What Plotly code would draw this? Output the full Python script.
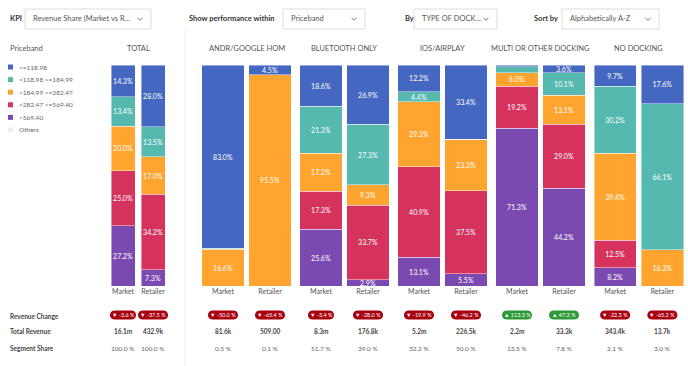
import math
import plotly.graph_objects as go

W, H = 688, 366

groups = ["TOTAL", "ANDR/GOOGLE HOM", "BLUETOOTH ONLY", "IOS/AIRPLAY", "MULTI OR OTHER DOCKING", "NO DOCKING"]
bars = ["Market", "Retailer"]
bands = ["<=118.98", ">118.98 <=184.99", ">184.99 <=282.47", ">282.47 <=569.40", ">569.40"]
band_colors = ["#4467c1", "#55b9b0", "#ffa52f", "#d5325e", "#7b4ab0"]

# share per band (top->bottom order), per group: [Market, Retailer]
share = {
    "<=118.98":          [[14.3, 28.0], [83.0, 4.5], [18.6, 26.9], [12.2, 33.4], [0.9, 3.6], [9.7, 17.6]],
    ">118.98 <=184.99":  [[13.4, 13.5], [0.4, 0.0], [21.3, 27.3], [4.4, 0.0], [2.6, 10.1], [30.2, 66.1]],
    ">184.99 <=282.47":  [[20.0, 17.0], [16.6, 95.5], [17.2, 9.3], [29.3, 23.3], [6.0, 13.1], [39.4, 16.3]],
    ">282.47 <=569.40":  [[25.0, 34.2], [0.0, 0.0], [17.3, 33.7], [40.9, 37.5], [19.2, 29.0], [12.5, 0.0]],
    ">569.40":           [[27.2, 7.3], [0.0, 0.0], [25.6, 2.9], [13.1, 5.5], [71.3, 44.2], [8.2, 0.0]],
}

revenue_change = [[-3.6, -37.5], [-50.0, -65.4], [-3.4, -28.0], [-19.9, -46.2], [113.3, 47.3], [-22.3, -65.2]]
total_revenue = [["16.1m", "432.9k"], ["81.6k", "509.00"], ["8.3m", "176.8k"], ["5.2m", "226.5k"], ["2.2m", "33.3k"], ["343.4k", "13.7k"]]
segment_share = [["100.0 %", "100.0 %"], ["0.5 %", "0.1 %"], ["51.7 %", "39.0 %"], ["32.2 %", "50.0 %"], ["13.5 %", "7.8 %"], ["2.1 %", "3.0 %"]]

FONT = "Lato"
# layout (pixels)
group_domains_px = [(108, 168), (199.5, 293.5), (297.5, 391.5), (395.5, 489.5), (493.5, 587.5), (591.5, 686)]
bar_width = [0.8, 0.894, 0.894, 0.894, 0.894, 0.894]
BAR_TOP, BAR_BOT = 65, 286


def px(x):
    return x / W


def py(y):
    return 1 - y / H


def ann(**kw):
    d = dict(showarrow=False, xanchor="center", yanchor="middle")
    d.update(kw)
    return d


fig = go.Figure()
layout_axes = {}
for gi, g in enumerate(groups):
    k = "" if gi == 0 else str(gi + 1)
    xa, ya = "x" + k, "y" + k
    for bi in range(len(bands) - 1, -1, -1):
        b = bands[bi]
        vals = share[b][gi]
        txt = [f"{v:.1f}%" if v >= 2.8 else "" for v in vals]
        fig.add_trace(go.Bar(
            x=bars, y=vals, xaxis=xa, yaxis=ya, width=bar_width[gi],
            marker=dict(color=band_colors[bi], line=dict(color="rgba(255,255,255,0.55)", width=0.8)),
            text=txt, textposition="inside", insidetextanchor="middle", textangle=0,
            textfont=dict(color="white", size=7, family=FONT),
            showlegend=False, hoverinfo="skip", name=b,
        ))
    d0, d1 = group_domains_px[gi]
    layout_axes["xaxis" + k] = dict(domain=[px(d0), px(d1)], anchor=ya, type="category",
                                    categoryorder="array", categoryarray=bars,
                                    showgrid=False, zeroline=False, showline=False, ticks="",
                                    tickfont=dict(size=7, color="#555", family=FONT), fixedrange=True)
    layout_axes["yaxis" + k] = dict(domain=[py(BAR_BOT), py(BAR_TOP)], anchor=xa, range=[0, 100],
                                    visible=False, fixedrange=True)

annotations = []
shapes = []

# group titles
for gi, g in enumerate(groups):
    d0, d1 = group_domains_px[gi]
    annotations.append(ann(x=px((d0 + d1) / 2), y=py(48), xref="paper", yref="paper", text=g,
                           font=dict(size=7.5, color="#555", family=FONT)))

annotations.append(ann(x=px(8), y=py(48), xref="paper", yref="paper", text="Priceband", xanchor="left",
                       font=dict(size=7.5, color="#555", family=FONT)))

# legend
leg_labels = bands + ["Others"]
leg_colors = band_colors + ["#eeeeee"]
for i, (lab, col) in enumerate(zip(leg_labels, leg_colors)):
    yc = 67 + i * 12.6
    shapes.append(dict(type="rect", xref="paper", yref="paper", x0=px(8), x1=px(13), y0=py(yc + 2.5), y1=py(yc - 2.5),
                       fillcolor=col, line=dict(width=0)))
    annotations.append(ann(x=px(17), y=py(yc), xref="paper", yref="paper", text=lab, xanchor="left",
                           font=dict(size=6.5, color="#666", family=FONT)))

# separator
shapes.append(dict(type="line", xref="paper", yref="paper", x0=px(185), x1=px(185), y0=0, y1=py(30),
                   line=dict(color="#eeeeee", width=1)))

# header controls
controls = [
    ("KPI", 8, 25, 151, "Revenue Share (Market vs R..."),
    ("Show performance within", 187, 283, 365, "Priceband"),
    ("By", 403, 414, 497, "TYPE OF DOCK..."),
    ("Sort by", 532, 562, 659, "Alphabetically A-Z"),
]
for lab, lx, bx0, bx1, val in controls:
    annotations.append(ann(x=px(lx), y=py(19), xref="paper", yref="paper", text=f"<b>{lab}</b>", xanchor="left",
                           font=dict(size=7.5, color="#333", family=FONT)))
    shapes.append(dict(type="rect", xref="paper", yref="paper", x0=px(bx0), x1=px(bx1), y0=py(29), y1=py(9),
                       line=dict(color="#dddddd", width=1), fillcolor="white", layer="below"))
    annotations.append(ann(x=px(bx0 + 6), y=py(19), xref="paper", yref="paper", text=val, xanchor="left",
                           font=dict(size=7.5, color="#555", family=FONT)))
    shapes.append(dict(type="path", xref="paper", yref="paper", xsizemode="pixel", ysizemode="pixel",
                       xanchor=px(bx1 - 11), yanchor=py(19),
                       path="M -2.5,1.2 L 0,-1.3 L 2.5,1.2", line=dict(color="#777", width=1)))

# bottom row labels
for lab, yy in [("Revenue Change", 316), ("Total Revenue", 331), ("Segment Share", 348)]:
    annotations.append(ann(x=px(8), y=py(yy), xref="paper", yref="paper", text=f"<b>{lab}</b>", xanchor="left",
                           font=dict(size=6.5, color="#444", family=FONT)))


def pill_path(hw, hh):
    r = hh
    pts = []
    for j in range(13):
        a = -math.pi / 2 + math.pi * j / 12
        pts.append((hw - r + r * math.cos(a), r * math.sin(a)))
    for j in range(13):
        a = math.pi / 2 + math.pi * j / 12
        pts.append((-hw + r + r * math.cos(a), r * math.sin(a)))
    return "M " + " L ".join(f"{x:.2f},{y:.2f}" for x, y in pts) + " Z"


for gi in range(len(groups)):
    k = "" if gi == 0 else str(gi + 1)
    for bi, bname in enumerate(bars):
        rc = revenue_change[gi][bi]
        up = rc > 0
        s = f"{rc:.1f} %"
        wpx = 26 if len(f"{abs(rc):.1f}") <= 3 else 30
        shapes.append(dict(type="path", xref="x" + k, yref="paper", xsizemode="pixel", ysizemode="pixel",
                           xanchor=bi, yanchor=py(315), path=pill_path(wpx / 2, 4.5),
                           fillcolor="#2e9a35" if up else "#a8000f", line=dict(width=0)))
        arrow = "▲" if up else "▼"
        annotations.append(ann(x=bi, y=py(315), xref="x" + k, yref="paper",
                               text=f"{arrow} {s}", font=dict(size=5.5, color="white", family=FONT)))
        annotations.append(ann(x=bi, y=py(331), xref="x" + k, yref="paper", text=f"<b>{total_revenue[gi][bi]}</b>",
                               font=dict(size=6.5, color="#444", family=FONT)))
        annotations.append(ann(x=bi, y=py(348), xref="x" + k, yref="paper", text=segment_share[gi][bi],
                               font=dict(size=6.5, color="#666", family=FONT)))

fig.update_layout(
    width=W, height=H, margin=dict(l=0, r=0, t=0, b=0),
    paper_bgcolor="white", plot_bgcolor="white",
    barmode="stack", barnorm="percent",
    uniformtext=dict(minsize=7, mode="show"),
    font=dict(family=FONT),
    annotations=annotations, shapes=shapes,
    **layout_axes,
)

fig.write_html("out.html", config={"displayModeBar": False},
               post_script="document.body.style.margin='0px';document.body.style.overflow='hidden';")
